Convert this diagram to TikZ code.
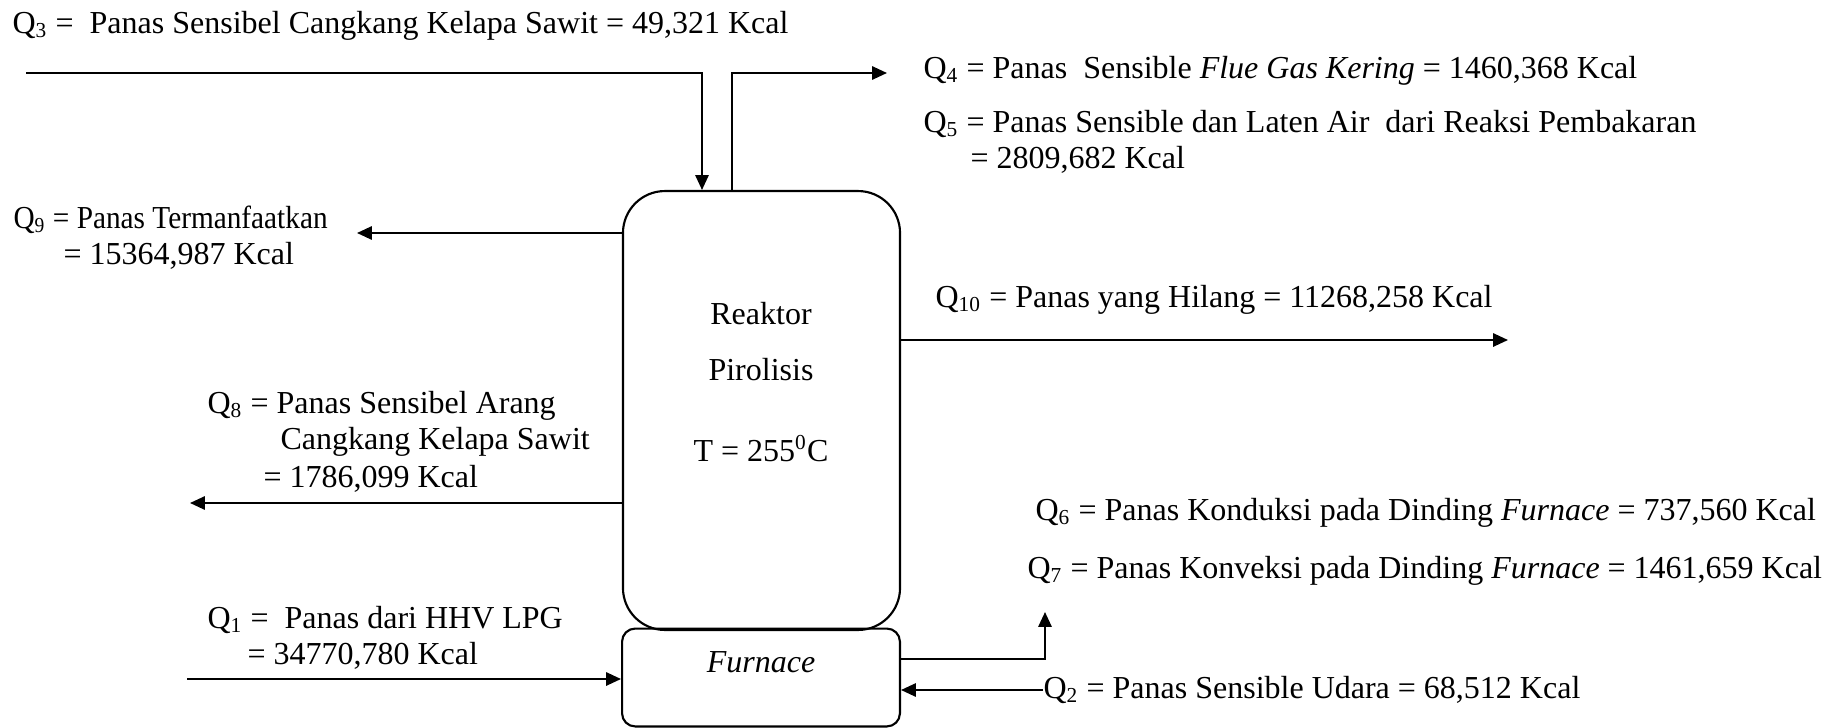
\documentclass[tikz,border=0pt]{standalone}
\usepackage{fontspec}
\usepackage{graphicx}
\setmainfont{Liberation Serif}
\usetikzlibrary{arrows.meta}
\begin{document}
\begin{tikzpicture}[x=0.375pt,y=-0.375pt,
  lbl/.style={anchor=base west,inner sep=0pt,font=\fontsize{12}{14}\selectfont},
  ctr/.style={anchor=base,inner sep=0pt,font=\fontsize{12}{14}\selectfont},
  arr/.style={line width=0.75pt,-{Triangle[length=5.6pt,width=5pt]}},
  box/.style={draw,line width=0.8pt,inner sep=0pt}]
\useasboundingbox (0,0) rectangle (1833,728);
% vessels
\node[box,rounded corners=15.75pt,minimum width=103.9pt,minimum height=164.6pt] (reactor) at (761.5,410.5) {};
\node[box,rounded corners=4.9pt,minimum width=104.2pt,minimum height=36.7pt] (furnace) at (761,677.5) {};
\node[ctr] (t1) at (761,324) {Reaktor};
\node[ctr] (t2) at (761,380) {Pirolisis};
\node[ctr] (t3) at (761,461) {T = 255\textsuperscript{0}C};
\node[ctr] (t4) at (761,672) {\textit{Furnace}};
% coordinates
\coordinate (q3s) at (26,73);
\coordinate (q3c) at (702,73);
\coordinate (q4c) at (732,73);
\coordinate (q4e) at (887,73);
\coordinate (q9e) at (357,233);
\coordinate (q10e) at (1508,340);
\coordinate (q8e) at (190,503);
\coordinate (q1s) at (187,679);
\coordinate (q2s) at (1043,690);
\coordinate (q67c) at (1045,659);
\coordinate (q67e) at (1045,612);
% connectors
\draw[arr] (q3s) -- (q3c) -- (q3c |- reactor.north);
\draw[arr] (q4c |- reactor.north) -- (q4c) -- (q4e);
\draw[arr] (q9e -| reactor.west) -- (q9e);
\draw[arr] (q10e -| reactor.east) -- (q10e);
\draw[arr] (q8e -| reactor.west) -- (q8e);
\draw[arr] (q1s) -- (q1s -| furnace.west);
\draw[arr] (q2s) -- (q2s -| furnace.east);
\draw[arr] (q67c -| furnace.east) -- (q67c) -- (q67e);
% labels
\node[lbl] (l3) at (12,33) {Q\textsubscript{3} = ~Panas Sensibel Cangkang Kelapa Sawit = 49,321 Kcal};
\node[lbl] (l4) at (923,78) {Q\textsubscript{4} = Panas ~Sensible \textit{Flue Gas Kering} = 1460,368 Kcal};
\node[lbl] (l5a) at (923,132) {Q\textsubscript{5} = Panas Sensible dan Laten Air ~dari Reaksi Pembakaran};
\node[lbl] (l5b) at (970,168) {= 2809,682 Kcal};
\node[lbl] (l9a) at (13,228) {\scalebox{0.915}[1]{Q\textsubscript{9} = Panas Termanfaatkan}};
\node[lbl] (l9b) at (63,264) {= 15364,987 Kcal};
\node[lbl] (l10) at (935,307) {Q\textsubscript{10} = Panas yang Hilang = 11268,258 Kcal};
\node[lbl] (l8a) at (207,413) {Q\textsubscript{8} = Panas Sensibel Arang};
\node[lbl] (l8b) at (280,449) {Cangkang Kelapa Sawit};
\node[lbl] (l8c) at (263,487) {= 1786,099 Kcal};
\node[lbl] (l1a) at (207,628) {Q\textsubscript{1} = ~Panas dari HHV LPG};
\node[lbl] (l1b) at (247,664) {= 34770,780 Kcal};
\node[lbl] (l6) at (1035,520) {Q\textsubscript{6} = Panas Konduksi pada Dinding \textit{Furnace} = 737,560 Kcal};
\node[lbl] (l7) at (1027,578) {Q\textsubscript{7} = Panas Konveksi pada Dinding \textit{Furnace} = 1461,659 Kcal};
\node[lbl] (l2) at (1043,698) {Q\textsubscript{2} = Panas Sensible Udara = 68,512 Kcal};
\end{tikzpicture}
\end{document}
